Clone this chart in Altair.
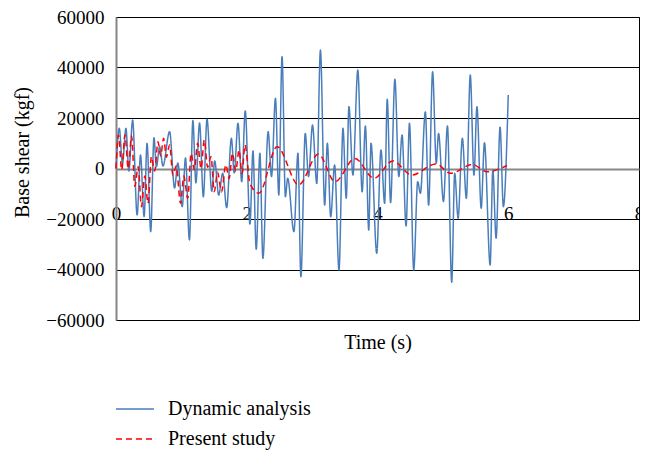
import altair as alt
import pandas as pd

# Dynamic analysis (blue) – turning points
blue_t = [0.0, 0.050, 0.099, 0.152, 0.197, 0.254, 0.323, 0.375, 0.430, 0.475,
          0.531, 0.581, 0.618, 0.668, 0.718, 0.820, 0.896, 0.946, 1.013, 1.063,
          1.123, 1.176, 1.222, 1.278, 1.336, 1.392, 1.465, 1.510, 1.571, 1.632,
          1.693, 1.765, 1.808, 1.866, 1.923, 1.977, 2.049, 2.095, 2.145, 2.201,
          2.247, 2.327, 2.379, 2.439, 2.490, 2.540, 2.591, 2.626, 2.722, 2.783,
          2.828, 2.895, 2.945, 3.006, 3.071, 3.127, 3.192, 3.233, 3.284, 3.344,
          3.411, 3.472, 3.522, 3.563, 3.624, 3.699, 3.765, 3.815, 3.866, 3.901,
          3.988, 4.053, 4.109, 4.149, 4.200, 4.266, 4.326, 4.376, 4.437, 4.489,
          4.554, 4.615, 4.656, 4.732, 4.782, 4.843, 4.899, 4.934, 5.009, 5.070,
          5.135, 5.181, 5.233, 5.298, 5.359, 5.419, 5.476, 5.521, 5.586, 5.636,
          5.723, 5.764, 5.814, 5.875, 5.925, 6.0]
blue_v = [0, 15900, 2000, 15900, -1000, 19200, -18400, 5300, -19000, 10000,
          -25000, 12200, 700, 8600, 1000, 14600, -7700, 2200, -15100, 4200,
          -28300, 19000, -5700, 18000, -11200, 19500, -9000, 3000, -10500, -1900,
          -15500, 12000, -1800, 17900, -5200, 22800, -22000, 7000, -32000, 6000,
          -35600, 14600, -3200, 27800, -10500, 44300, -11200, -3900, -25000, 6000,
          -42900, 13900, -3200, 17200, -5900, 46900, -14500, 10000, -19100, 1400,
          -40200, 15900, -11800, 24500, -2600, 39000, -9200, 16800, -24400, 10000,
          -33600, 7300, -13800, 27400, -13500, 35300, -3200, 13300, -22800, 17900,
          -40200, -5200, -9800, 22500, -14500, 38300, 2100, 13900, -13100, 16800,
          -45000, -1900, -19700, 12000, -11800, 37000, -2600, 24500, -15800, 10200,
          -38200, -600, -27600, 16300, -15100, 29100]

# Present study (red dashed)
red_t = [0.0, 0.038, 0.088, 0.137, 0.187, 0.238, 0.288, 0.339, 0.390, 0.440,
         0.490, 0.542, 0.592, 0.642, 0.683, 0.729, 0.770, 0.820, 0.870, 0.921,
         0.987, 1.037, 1.098, 1.149, 1.199, 1.249, 1.301, 1.351, 1.401, 1.453,
         1.503, 1.553, 1.614, 1.680, 1.731, 1.781, 1.832, 1.882, 1.928, 1.973,
         2.049, 2.186, 2.464, 2.793, 3.097, 3.350, 3.654, 3.947, 4.235, 4.524,
         4.893, 5.120, 5.450, 5.677, 5.981]
red_v = [0, 13300, -600, 13300, 0, 12900, -7000, 700, -15100, -3000,
         -13800, 4700, -1000, 10600, 5000, 12000, 4500, 9300, -2600, 1000,
         -13800, -3000, -11800, 6000, -500, 10000, 0, 11300, 500, 4700,
         -9200, -1500, -9200, 1500, -4000, 6000, -1000, 7300, -2000, 9300,
         -6000, -9800, 8600, -6500, 5700, -5200, 4000, -3900, 3000, -2600,
         1800, -1900, 1600, -1300, 1200]

series_names = ["Dynamic analysis", "Present study"]
x_ticks = [0, 2, 4, 6, 8]
y_ticks = [-60000, -40000, -20000, 0, 20000, 40000, 60000]

df = pd.concat([
    pd.DataFrame({"t": blue_t, "v": blue_v, "s": series_names[0], "o": range(len(blue_t))}),
    pd.DataFrame({"t": red_t, "v": red_v, "s": series_names[1], "o": range(len(red_t))}),
])

FONT = "Liberation Serif"

legend_kw = dict(title=None, orient="none", legendX=-1, legendY=372,
                 symbolType="stroke", symbolSize=1444, symbolStrokeWidth=1.5,
                 labelFont=FONT, labelFontSize=20, labelColor="black",
                 labelOffset=13, rowPadding=-16, padding=0)

chart = alt.Chart(df).mark_line(interpolate="monotone", strokeWidth=1.5).encode(
    x=alt.X("t:Q", scale=alt.Scale(domain=[0, 8], nice=False),
            axis=alt.Axis(values=x_ticks, title="Time (s)", grid=False, domain=False,
                          ticks=False, labelPadding=-116, labelFlush=False,
                          labelFont=FONT, labelFontSize=19, labelColor="black",
                          titleFont=FONT, titleFontSize=20, titleFontWeight="normal",
                          titleColor="black", titleY=22, titleBaseline="middle")),
    y=alt.Y("v:Q", scale=alt.Scale(domain=[-60000, 60000], nice=False),
            axis=alt.Axis(values=y_ticks, format="d", title="Base shear (kgf)",
                          grid=True,
                          gridColor={"condition": {"test": "datum.value === 0", "value": "#888888"}, "value": "black"},
                          gridWidth={"condition": {"test": "datum.value === 0", "value": 2}, "value": 1},
                          domain=True, domainColor="#868686", domainWidth=2,
                          ticks=False, labelPadding=12,
                          labelFont=FONT, labelFontSize=19, labelColor="black",
                          titleFont=FONT, titleFontSize=20, titleFontWeight="normal",
                          titleColor="black", titleX=-94, titleY=135,
                          titleBaseline="middle", titleAlign="center")),
    color=alt.Color("s:N", scale=alt.Scale(domain=series_names, range=["#4a7ebb", "#ff0000"]),
                    legend=alt.Legend(**legend_kw)),
    strokeDash=alt.StrokeDash("s:N", scale=alt.Scale(domain=series_names, range=[[1, 0], [6, 4]]),
                              legend=alt.Legend(**legend_kw)),
    order="o:Q",
).properties(
    width=523, height=303,
    padding={"left": 108, "top": 9, "right": 1, "bottom": 131},
    autosize=alt.AutoSizeParams(type="none"),
).configure_view(stroke="black", strokeWidth=1)

chart.save("out.html", embed_options={"renderer": "svg", "actions": False})
